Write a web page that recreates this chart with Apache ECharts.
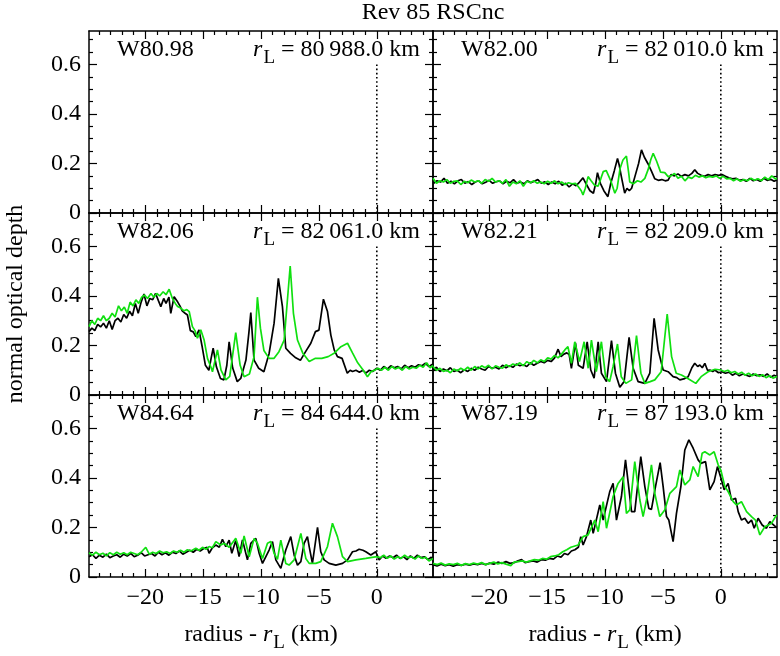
<!DOCTYPE html>
<html>
<head>
<meta charset="utf-8">
<script src="https://cdn.jsdelivr.net/npm/echarts@6/dist/echarts.min.js"></script>
<style>html,body{margin:0;padding:0;background:#fff}#c{width:780px;height:656px}</style>
</head>
<body>
<div id="c"></div>
<script>
// ---------- axis ranges and ticks ----------
const xMin = -24.85, xMax = 4.85, yMin = 0, yMax = 0.735;
const xMajorTicks = [-20, -15, -10, -5, 0];
const xMinorTicks = [-24,-23,-22,-21,-19,-18,-17,-16,-14,-13,-12,-11,-9,-8,-7,-6,-4,-3,-2,-1,1,2,3,4];
const yMajorTicks = [0, 0.2, 0.4, 0.6];
const yMinorTicks = [0.05,0.1,0.15,0.25,0.3,0.35,0.45,0.5,0.55,0.65,0.7];
const refLineY = [0, 0.6];

// ---------- panel labels ----------
const panelNames = ['W80.98', 'W82.00', 'W82.06', 'W82.21', 'W84.64', 'W87.19'];
const panelRL = ['80\u2009988.0', '82\u2009010.0', '82\u2009061.0', '82\u2009209.0', '84\u2009644.0', '87\u2009193.0'];

// ---------- data: [radius - rL (km), normal optical depth] ----------
const black_W8098 = [];
const green_W8098 = [];

const black_W8200 = [[-24.8,0.12],[-24.5,0.13],[-24.2,0.125],[-23.9,0.14],[-23.6,0.12],[-23.3,0.128],[-23.0,0.118],[-22.7,0.13],[-22.4,0.135],[-22.1,0.12],[-21.8,0.127],[-21.5,0.115],[-21.2,0.125],[-20.9,0.13],[-20.6,0.118],[-20.3,0.124],[-20.0,0.132],[-19.7,0.12],[-19.4,0.126],[-19.1,0.13],[-18.8,0.118],[-18.5,0.128],[-18.2,0.122],[-17.9,0.135],[-17.6,0.12],[-17.3,0.125],[-17.0,0.118],[-16.7,0.13],[-16.4,0.122],[-16.1,0.128],[-15.8,0.135],[-15.5,0.12],[-15.2,0.126],[-14.9,0.115],[-14.6,0.125],[-14.3,0.118],[-14.0,0.128],[-13.7,0.112],[-13.4,0.12],[-13.1,0.105],[-12.8,0.118],[-12.5,0.11],[-12.2,0.125],[-11.9,0.142],[-11.6,0.115],[-11.3,0.09],[-11.0,0.08],[-10.8,0.12],[-10.65,0.163],[-10.4,0.12],[-10.1,0.09],[-9.75,0.066],[-9.5,0.12],[-9.2,0.17],[-8.92,0.22],[-8.78,0.195],[-8.6,0.15],[-8.3,0.08],[-8.1,0.1],[-7.9,0.09],[-7.7,0.1],[-7.4,0.15],[-7.1,0.2],[-6.85,0.255],[-6.6,0.225],[-6.3,0.2],[-6.0,0.17],[-5.7,0.138],[-5.4,0.132],[-5.1,0.135],[-4.8,0.13],[-4.55,0.133],[-4.3,0.155],[-4.0,0.15],[-3.7,0.158],[-3.4,0.148],[-3.1,0.155],[-2.8,0.15],[-2.5,0.16],[-2.25,0.175],[-2.0,0.16],[-1.7,0.152],[-1.4,0.148],[-1.1,0.155],[-0.8,0.15],[-0.5,0.155],[-0.2,0.152],[0.1,0.155],[0.4,0.148],[0.7,0.142],[1.0,0.138],[1.3,0.14],[1.6,0.132],[1.9,0.135],[2.2,0.128],[2.5,0.14],[2.8,0.13],[3.1,0.135],[3.4,0.128],[3.7,0.14],[4.0,0.132],[4.3,0.136],[4.6,0.128],[4.85,0.133]];
const green_W8200 = [[-24.85,0.14],[-24.55,0.12],[-24.25,0.13],[-23.95,0.125],[-23.65,0.135],[-23.35,0.12],[-23.05,0.128],[-22.75,0.13],[-22.45,0.115],[-22.15,0.128],[-21.85,0.122],[-21.55,0.133],[-21.25,0.125],[-20.95,0.13],[-20.65,0.12],[-20.35,0.135],[-20.05,0.128],[-19.75,0.14],[-19.45,0.125],[-19.15,0.13],[-18.85,0.12],[-18.55,0.135],[-18.25,0.108],[-17.95,0.125],[-17.65,0.118],[-17.35,0.13],[-17.05,0.108],[-16.75,0.128],[-16.45,0.122],[-16.15,0.13],[-15.85,0.12],[-15.55,0.125],[-15.25,0.118],[-14.95,0.128],[-14.65,0.12],[-14.35,0.13],[-14.05,0.118],[-13.75,0.125],[-13.45,0.115],[-13.15,0.122],[-12.85,0.118],[-12.55,0.12],[-12.3,0.106],[-12.05,0.09],[-11.9,0.073],[-11.7,0.1],[-11.46,0.147],[-11.2,0.13],[-10.9,0.112],[-10.6,0.108],[-10.35,0.14],[-10.15,0.167],[-9.9,0.172],[-9.73,0.171],[-9.5,0.13],[-9.15,0.08],[-8.95,0.1],[-8.7,0.18],[-8.45,0.214],[-8.15,0.23],[-7.95,0.16],[-7.86,0.125],[-7.55,0.118],[-7.2,0.13],[-6.9,0.125],[-6.56,0.14],[-6.28,0.175],[-6.05,0.215],[-5.84,0.241],[-5.55,0.21],[-5.2,0.165],[-4.84,0.163],[-4.55,0.147],[-4.3,0.15],[-4.0,0.16],[-3.7,0.14],[-3.4,0.148],[-3.1,0.13],[-2.8,0.145],[-2.5,0.14],[-2.2,0.152],[-1.9,0.145],[-1.6,0.15],[-1.3,0.142],[-1.0,0.148],[-0.7,0.145],[-0.4,0.15],[-0.1,0.14],[0.2,0.148],[0.5,0.138],[0.8,0.14],[1.1,0.13],[1.4,0.138],[1.7,0.128],[2.0,0.135],[2.3,0.13],[2.6,0.14],[2.9,0.132],[3.2,0.138],[3.5,0.13],[3.8,0.145],[4.1,0.135],[4.4,0.15],[4.7,0.138],[4.85,0.14]];

const black_W8206 = [[-24.85,0.256],[-24.6,0.27],[-24.35,0.26],[-24.1,0.285],[-23.85,0.275],[-23.6,0.29],[-23.35,0.27],[-23.1,0.3],[-22.85,0.265],[-22.6,0.3],[-22.35,0.31],[-22.1,0.295],[-21.85,0.325],[-21.6,0.31],[-21.35,0.338],[-21.1,0.32],[-20.85,0.37],[-20.6,0.33],[-20.35,0.375],[-20.1,0.408],[-19.85,0.36],[-19.6,0.39],[-19.35,0.385],[-19.1,0.41],[-18.85,0.38],[-18.65,0.357],[-18.4,0.39],[-18.2,0.37],[-17.95,0.395],[-17.79,0.33],[-17.5,0.397],[-17.25,0.38],[-17.0,0.36],[-16.8,0.34],[-16.55,0.33],[-16.35,0.323],[-16.1,0.26],[-15.85,0.255],[-15.63,0.236],[-15.35,0.263],[-15.1,0.2],[-14.8,0.12],[-14.5,0.1],[-14.3,0.15],[-14.13,0.189],[-13.85,0.114],[-13.5,0.067],[-13.2,0.061],[-12.95,0.12],[-12.75,0.215],[-12.45,0.11],[-12.05,0.054],[-11.75,0.067],[-11.3,0.141],[-11.05,0.25],[-10.88,0.333],[-10.6,0.141],[-10.2,0.108],[-9.75,0.094],[-9.3,0.168],[-8.87,0.29],[-8.5,0.471],[-8.15,0.357],[-7.86,0.189],[-7.45,0.168],[-7.0,0.15],[-6.6,0.14],[-6.15,0.175],[-5.7,0.209],[-5.3,0.256],[-5.0,0.262],[-4.61,0.387],[-4.26,0.337],[-3.97,0.242],[-3.68,0.182],[-3.4,0.155],[-3.0,0.148],[-2.55,0.088],[-2.3,0.1],[-2.1,0.095],[-1.8,0.1],[-1.5,0.092],[-1.2,0.1],[-0.95,0.088],[-0.65,0.1],[-0.37,0.095],[0,0.108],[0.3,0.1],[0.6,0.115],[0.9,0.105],[1.2,0.118],[1.5,0.11],[1.8,0.115],[2.1,0.105],[2.4,0.12],[2.7,0.11],[3.0,0.118],[3.3,0.112],[3.6,0.122],[3.9,0.118],[4.2,0.128],[4.5,0.115],[4.85,0.125]];
const green_W8206 = [[-24.85,0.276],[-24.6,0.3],[-24.35,0.285],[-24.1,0.31],[-23.85,0.3],[-23.6,0.32],[-23.35,0.3],[-23.1,0.31],[-22.85,0.33],[-22.6,0.315],[-22.3,0.36],[-22.05,0.34],[-21.8,0.355],[-21.55,0.33],[-21.3,0.375],[-21.05,0.36],[-20.8,0.384],[-20.55,0.37],[-20.3,0.395],[-20.05,0.404],[-19.8,0.39],[-19.5,0.41],[-19.25,0.395],[-19.0,0.41],[-18.75,0.4],[-18.45,0.417],[-18.2,0.405],[-17.93,0.427],[-17.65,0.39],[-17.4,0.37],[-17.2,0.357],[-16.9,0.35],[-16.65,0.34],[-16.4,0.345],[-16.2,0.337],[-15.92,0.276],[-15.7,0.26],[-15.49,0.229],[-15.2,0.263],[-14.91,0.222],[-14.62,0.148],[-14.3,0.11],[-14.19,0.094],[-13.76,0.182],[-13.45,0.1],[-13.04,0.061],[-12.7,0.075],[-12.18,0.252],[-11.8,0.12],[-11.46,0.074],[-11.0,0.085],[-10.6,0.155],[-10.31,0.395],[-10.05,0.27],[-9.75,0.18],[-9.3,0.148],[-8.87,0.148],[-8.45,0.175],[-8.0,0.222],[-7.48,0.521],[-7.2,0.33],[-6.85,0.222],[-6.4,0.17],[-5.84,0.135],[-5.3,0.148],[-4.75,0.148],[-4.2,0.155],[-3.65,0.17],[-3.1,0.195],[-2.53,0.209],[-2.1,0.17],[-1.65,0.13],[-1.25,0.105],[-0.81,0.074],[-0.5,0.094],[-0.2,0.1],[0.1,0.108],[0.4,0.1],[0.7,0.112],[1.0,0.1],[1.3,0.115],[1.6,0.105],[1.9,0.112],[2.2,0.1],[2.5,0.115],[2.8,0.105],[3.1,0.112],[3.4,0.108],[3.7,0.12],[4.0,0.112],[4.3,0.13],[4.6,0.11],[4.85,0.12]];

const black_W8221 = [[-24.85,0.1],[-24.55,0.112],[-24.25,0.095],[-23.95,0.105],[-23.65,0.098],[-23.35,0.11],[-23.05,0.095],[-22.75,0.1],[-22.45,0.09],[-22.15,0.102],[-21.85,0.095],[-21.55,0.108],[-21.25,0.1],[-20.95,0.112],[-20.65,0.105],[-20.35,0.1],[-20.05,0.115],[-19.75,0.108],[-19.45,0.112],[-19.15,0.105],[-18.85,0.12],[-18.55,0.11],[-18.25,0.118],[-17.95,0.112],[-17.65,0.125],[-17.35,0.118],[-17.05,0.122],[-16.75,0.115],[-16.45,0.13],[-16.15,0.12],[-15.85,0.128],[-15.55,0.135],[-15.25,0.13],[-14.95,0.14],[-14.65,0.135],[-14.35,0.15],[-14.05,0.185],[-13.8,0.155],[-13.55,0.165],[-13.3,0.17],[-13.1,0.165],[-12.9,0.108],[-12.55,0.211],[-12.3,0.12],[-11.89,0.108],[-11.54,0.215],[-11.23,0.101],[-10.94,0.068],[-10.59,0.215],[-10.31,0.088],[-9.87,0.054],[-9.44,0.22],[-9.1,0.088],[-8.72,0.031],[-8.35,0.054],[-7.92,0.233],[-7.57,0.108],[-7.14,0.054],[-6.56,0.047],[-6.13,0.088],[-5.76,0.31],[-5.41,0.182],[-4.98,0.101],[-4.55,0.094],[-4.12,0.074],[-3.8,0.07],[-3.54,0.061],[-3.2,0.065],[-2.82,0.074],[-2.5,0.11],[-2.25,0.128],[-2.0,0.115],[-1.81,0.121],[-1.6,0.11],[-1.38,0.128],[-1.15,0.1],[-0.95,0.101],[-0.7,0.095],[-0.52,0.101],[-0.2,0.09],[0.1,0.094],[0.4,0.088],[0.7,0.092],[1.0,0.08],[1.3,0.088],[1.6,0.078],[1.9,0.085],[2.2,0.08],[2.5,0.075],[2.8,0.085],[3.1,0.078],[3.4,0.082],[3.7,0.075],[4.0,0.085],[4.3,0.072],[4.6,0.08],[4.85,0.075]];
const green_W8221 = [[-24.85,0.115],[-24.55,0.1],[-24.25,0.108],[-23.95,0.095],[-23.65,0.1],[-23.35,0.09],[-23.05,0.105],[-22.75,0.098],[-22.45,0.108],[-22.15,0.1],[-21.85,0.112],[-21.55,0.1],[-21.25,0.115],[-20.95,0.105],[-20.65,0.118],[-20.35,0.11],[-20.05,0.12],[-19.75,0.105],[-19.45,0.118],[-19.15,0.112],[-18.85,0.108],[-18.55,0.122],[-18.25,0.115],[-17.95,0.125],[-17.65,0.12],[-17.35,0.13],[-17.05,0.118],[-16.75,0.135],[-16.45,0.125],[-16.15,0.14],[-15.85,0.13],[-15.55,0.142],[-15.25,0.135],[-14.95,0.15],[-14.65,0.145],[-14.35,0.16],[-14.05,0.15],[-13.75,0.165],[-13.47,0.182],[-13.2,0.195],[-12.9,0.128],[-12.61,0.215],[-12.2,0.135],[-11.8,0.215],[-11.45,0.108],[-11.17,0.222],[-10.75,0.094],[-10.31,0.215],[-9.95,0.074],[-9.6,0.054],[-9.3,0.115],[-8.92,0.206],[-8.6,0.074],[-8.2,0.047],[-7.7,0.061],[-7.28,0.24],[-6.9,0.088],[-6.56,0.047],[-6.1,0.054],[-5.7,0.061],[-5.15,0.094],[-4.63,0.327],[-4.25,0.155],[-3.85,0.088],[-3.4,0.081],[-2.85,0.067],[-2.16,0.047],[-1.7,0.074],[-1.1,0.094],[-0.5,0.104],[0,0.101],[0.3,0.095],[0.6,0.1],[0.9,0.09],[1.2,0.095],[1.5,0.085],[1.8,0.092],[2.1,0.08],[2.4,0.088],[2.7,0.078],[3.0,0.085],[3.3,0.075],[3.6,0.082],[3.9,0.07],[4.2,0.078],[4.5,0.068],[4.85,0.075]];

const black_W8464 = [[-24.85,0.082],[-24.55,0.09],[-24.25,0.075],[-23.95,0.088],[-23.65,0.08],[-23.35,0.092],[-23.05,0.078],[-22.75,0.085],[-22.45,0.09],[-22.15,0.08],[-21.85,0.092],[-21.55,0.085],[-21.25,0.095],[-20.95,0.082],[-20.65,0.088],[-20.35,0.098],[-20.05,0.085],[-19.75,0.09],[-19.45,0.095],[-19.15,0.085],[-18.85,0.1],[-18.55,0.09],[-18.25,0.098],[-17.95,0.088],[-17.65,0.1],[-17.35,0.095],[-17.05,0.105],[-16.75,0.092],[-16.45,0.1],[-16.15,0.108],[-15.85,0.1],[-15.55,0.112],[-15.25,0.105],[-14.95,0.115],[-14.65,0.12],[-14.48,0.096],[-14.2,0.118],[-13.9,0.129],[-13.6,0.12],[-13.33,0.152],[-13.04,0.123],[-12.75,0.149],[-12.52,0.096],[-12.18,0.147],[-11.89,0.082],[-11.6,0.15],[-11.17,0.069],[-10.88,0.136],[-10.45,0.156],[-10.16,0.096],[-9.87,0.055],[-9.3,0.109],[-9.01,0.143],[-8.72,0.069],[-8.29,0.035],[-7.86,0.109],[-7.43,0.163],[-7.14,0.089],[-6.85,0.048],[-6.56,0.062],[-6.28,0.136],[-5.99,0.163],[-5.84,0.123],[-5.56,0.055],[-5.12,0.2],[-4.84,0.102],[-4.55,0.069],[-4.12,0.055],[-3.54,0.048],[-2.96,0.055],[-2.53,0.069],[-2.1,0.102],[-1.8,0.105],[-1.53,0.112],[-1.2,0.108],[-0.95,0.102],[-0.52,0.089],[-0.09,0.102],[0.2,0.069],[0.5,0.085],[0.8,0.075],[1.1,0.085],[1.4,0.078],[1.7,0.088],[2.0,0.075],[2.3,0.082],[2.6,0.07],[2.9,0.085],[3.2,0.075],[3.5,0.088],[3.8,0.078],[4.1,0.082],[4.4,0.07],[4.7,0.08],[4.85,0.069]];
const green_W8464 = [[-24.85,0.098],[-24.55,0.088],[-24.25,0.1],[-23.95,0.09],[-23.65,0.096],[-23.35,0.085],[-23.05,0.098],[-22.75,0.09],[-22.45,0.1],[-22.15,0.092],[-21.85,0.098],[-21.55,0.09],[-21.25,0.1],[-20.95,0.095],[-20.65,0.09],[-20.35,0.1],[-19.95,0.12],[-19.65,0.092],[-19.35,0.1],[-19.05,0.095],[-18.75,0.105],[-18.45,0.098],[-18.15,0.102],[-17.85,0.095],[-17.55,0.105],[-17.25,0.1],[-16.95,0.108],[-16.65,0.1],[-16.35,0.11],[-16.05,0.105],[-15.63,0.116],[-15.35,0.108],[-15.05,0.12],[-14.75,0.112],[-14.48,0.123],[-14.2,0.118],[-13.9,0.143],[-13.47,0.129],[-13.18,0.136],[-12.75,0.12],[-12.18,0.156],[-11.74,0.096],[-11.46,0.166],[-11.02,0.082],[-10.59,0.156],[-10.31,0.136],[-9.87,0.075],[-9.44,0.136],[-9.15,0.143],[-8.87,0.096],[-8.58,0.071],[-8.29,0.149],[-7.86,0.055],[-7.57,0.048],[-7.14,0.069],[-6.56,0.176],[-6.13,0.075],[-5.84,0.055],[-5.27,0.055],[-4.84,0.062],[-4.26,0.123],[-3.83,0.217],[-3.4,0.163],[-2.96,0.082],[-2.53,0.062],[-1.81,0.069],[-0.95,0.075],[0,0.082],[0.3,0.078],[0.6,0.088],[0.9,0.075],[1.2,0.085],[1.5,0.072],[1.8,0.082],[2.1,0.075],[2.4,0.088],[2.7,0.078],[3.0,0.082],[3.3,0.072],[3.6,0.085],[3.9,0.075],[4.2,0.08],[4.5,0.065],[4.85,0.075]];

const black_W8719 = [[-24.85,0.05],[-24.5,0.045],[-24.15,0.052],[-23.8,0.046],[-23.45,0.05],[-23.1,0.044],[-22.75,0.05],[-22.4,0.047],[-22.05,0.052],[-21.7,0.048],[-21.35,0.053],[-21.0,0.05],[-20.65,0.055],[-20.3,0.05],[-19.95,0.056],[-19.6,0.052],[-19.25,0.06],[-18.9,0.055],[-18.55,0.062],[-18.2,0.055],[-17.85,0.058],[-17.5,0.065],[-17.2,0.07],[-16.9,0.058],[-16.55,0.062],[-16.2,0.065],[-15.85,0.06],[-15.5,0.07],[-15.15,0.068],[-14.8,0.075],[-14.45,0.072],[-14.1,0.085],[-13.8,0.08],[-13.5,0.095],[-13.2,0.09],[-12.9,0.105],[-12.6,0.11],[-12.3,0.12],[-12.09,0.163],[-11.89,0.129],[-11.6,0.163],[-11.23,0.23],[-11.02,0.176],[-10.45,0.291],[-10.16,0.23],[-9.59,0.345],[-9.3,0.378],[-9.01,0.23],[-8.58,0.325],[-8.23,0.473],[-7.94,0.358],[-7.71,0.264],[-7.43,0.264],[-6.91,0.486],[-6.56,0.365],[-6.22,0.277],[-5.99,0.273],[-5.64,0.365],[-5.24,0.462],[-4.98,0.365],[-4.69,0.244],[-4.49,0.23],[-4.12,0.143],[-3.83,0.257],[-3.45,0.365],[-3.11,0.513],[-2.76,0.554],[-2.39,0.52],[-1.96,0.473],[-1.73,0.459],[-1.32,0.466],[-0.95,0.352],[-0.58,0.385],[-0.29,0.446],[0.06,0.392],[0.29,0.352],[0.63,0.378],[0.92,0.311],[1.27,0.318],[1.5,0.264],[1.78,0.23],[2.07,0.237],[2.36,0.217],[2.65,0.23],[2.88,0.197],[3.22,0.237],[3.57,0.21],[3.94,0.197],[4.23,0.224],[4.72,0.203],[4.85,0.2]];
const green_W8719 = [[-24.85,0.055],[-24.5,0.05],[-24.15,0.056],[-23.8,0.048],[-23.45,0.053],[-23.1,0.05],[-22.75,0.055],[-22.4,0.047],[-22.05,0.054],[-21.7,0.05],[-21.35,0.056],[-21.0,0.052],[-20.65,0.058],[-20.3,0.05],[-19.95,0.055],[-19.6,0.06],[-19.25,0.053],[-18.9,0.058],[-18.55,0.052],[-18.13,0.046],[-17.85,0.06],[-17.5,0.062],[-17.15,0.065],[-16.8,0.06],[-16.45,0.065],[-16.1,0.07],[-15.75,0.068],[-15.4,0.075],[-15.05,0.072],[-14.7,0.082],[-14.35,0.085],[-14.0,0.09],[-13.65,0.102],[-13.3,0.11],[-12.95,0.12],[-12.32,0.129],[-11.89,0.163],[-11.46,0.17],[-10.88,0.23],[-10.59,0.183],[-10.16,0.304],[-9.87,0.197],[-9.3,0.325],[-8.87,0.378],[-8.43,0.405],[-8.15,0.257],[-7.86,0.271],[-7.43,0.466],[-6.99,0.311],[-6.71,0.244],[-6.42,0.311],[-5.99,0.453],[-5.7,0.338],[-5.27,0.244],[-4.84,0.271],[-4.4,0.338],[-3.83,0.365],[-3.54,0.432],[-3.11,0.372],[-2.68,0.392],[-2.39,0.446],[-1.96,0.405],[-1.61,0.5],[-1.38,0.506],[-0.95,0.493],[-0.58,0.506],[-0.23,0.453],[0,0.432],[0.35,0.365],[0.63,0.345],[1.07,0.304],[1.35,0.291],[1.78,0.304],[2.22,0.264],[2.65,0.244],[2.99,0.23],[3.37,0.17],[3.8,0.203],[4.38,0.217],[4.72,0.244],[4.85,0.25]];

const blackSeries = [black_W8098, black_W8200, black_W8206, black_W8221, black_W8464, black_W8719];
const greenSeries = [green_W8098, green_W8200, green_W8206, green_W8221, green_W8464, green_W8719];

// ---------- layout ----------
const FONT = "'Liberation Serif', 'DejaVu Serif', serif";
const colLeft = [89, 433];
const rowTop = [31, 213, 395];
const gridW = 344, gridH = 182;
const GREEN = '#10e010';

const fmtX = v => (v < 0 ? '\u2212' + Math.abs(v) : String(v));
const fmtY = v => (v === 0 ? '0' : v.toFixed(1));

const grids = [], xAxes = [], yAxes = [], series = [], graphics = [];

function xAxisDef(gi, pos, ticks, len, showLine, showLabel) {
  return {
    type: 'value', gridIndex: gi, position: pos, min: xMin, max: xMax,
    axisLine: { show: showLine, onZero: false, lineStyle: { color: '#000', width: 1.5 } },
    axisTick: { show: true, inside: true, length: len, customValues: ticks, lineStyle: { color: '#000', width: 1.2 } },
    axisLabel: { show: showLabel, customValues: ticks, margin: 9, formatter: fmtX,
      color: '#000', fontFamily: FONT, fontSize: 24 },
    splitLine: { show: false }
  };
}
function yAxisDef(gi, pos, ticks, len, showLine, showLabel) {
  return {
    type: 'value', gridIndex: gi, position: pos, min: yMin, max: yMax,
    axisLine: { show: showLine, onZero: false, lineStyle: { color: '#000', width: 1.5 } },
    axisTick: { show: true, inside: true, length: len, customValues: ticks, lineStyle: { color: '#000', width: 1.2 } },
    axisLabel: { show: showLabel, customValues: ticks, margin: 8, formatter: fmtY,
      color: '#000', fontFamily: FONT, fontSize: 24 },
    splitLine: { show: false }
  };
}

for (let i = 0; i < 6; i++) {
  const col = i % 2, row = Math.floor(i / 2);
  grids.push({ left: colLeft[col], top: rowTop[row], width: gridW, height: gridH });
  const xb = xAxes.length, yb = yAxes.length;
  xAxes.push(xAxisDef(i, 'bottom', xMajorTicks, 8, true, row === 2));
  xAxes.push(xAxisDef(i, 'bottom', xMinorTicks, 4, false, false));
  xAxes.push(xAxisDef(i, 'top', xMajorTicks, 8, true, false));
  xAxes.push(xAxisDef(i, 'top', xMinorTicks, 4, false, false));
  yAxes.push(yAxisDef(i, 'left', yMajorTicks, 8, true, col === 0));
  yAxes.push(yAxisDef(i, 'left', yMinorTicks, 4, false, false));
  yAxes.push(yAxisDef(i, 'right', yMajorTicks, 8, true, false));
  yAxes.push(yAxisDef(i, 'right', yMinorTicks, 4, false, false));

  series.push({ type: 'line', xAxisIndex: xb, yAxisIndex: yb, data: [[0, refLineY[0]], [0, refLineY[1]]],
    showSymbol: false, lineStyle: { color: '#000', width: 1.6, type: [1.6, 2.6] }, z: 1 });
  series.push({ type: 'line', xAxisIndex: xb, yAxisIndex: yb, data: blackSeries[i],
    showSymbol: false, lineStyle: { color: '#000', width: 1.7 }, z: 2 });
  series.push({ type: 'line', xAxisIndex: xb, yAxisIndex: yb, data: greenSeries[i],
    showSymbol: false, lineStyle: { color: GREEN, width: 1.7 }, z: 3 });

  // panel labels
  graphics.push({ type: 'text', x: colLeft[col] + 28, y: rowTop[row] + 19,
    style: { text: panelNames[i], fill: '#000', font: '24px ' + FONT, align: 'left', verticalAlign: 'middle' } });
  graphics.push({ type: 'text', x: colLeft[col] + 331, y: rowTop[row] + 19,
    style: { text: '{r|r}{L|L}{n| = ' + panelRL[i] + ' km}', align: 'right', verticalAlign: 'middle',
      rich: {
        r: { fontFamily: FONT, fontSize: 24, fontStyle: 'italic', fill: '#000' },
        L: { fontFamily: FONT, fontSize: 19, fill: '#000', padding: [17, 0, 0, 1] },
        n: { fontFamily: FONT, fontSize: 24, fill: '#000' }
      } } });
}

// title and axis names
graphics.push({ type: 'text', x: 433, y: 13,
  style: { text: 'Rev 85 RSCnc', fill: '#000', font: '24px ' + FONT, align: 'center', verticalAlign: 'middle' } });
graphics.push({ type: 'text', x: 16, y: 304, rotation: Math.PI / 2,
  style: { text: 'normal optical depth', fill: '#000', font: '24px ' + FONT, align: 'center', verticalAlign: 'middle' } });
[261, 605].forEach(cx => {
  graphics.push({ type: 'text', x: cx, y: 635,
    style: { text: '{n|radius - }{r|r}{L|L}{n| (km)}', align: 'center', verticalAlign: 'middle',
      rich: {
        r: { fontFamily: FONT, fontSize: 24, fontStyle: 'italic', fill: '#000' },
        L: { fontFamily: FONT, fontSize: 19, fill: '#000', padding: [17, 0, 0, 1] },
        n: { fontFamily: FONT, fontSize: 24, fill: '#000' }
      } } });
});

const chart = echarts.init(document.getElementById('c'), null, { renderer: 'canvas' });
chart.setOption({
  animation: false,
  backgroundColor: '#fff',
  grid: grids,
  xAxis: xAxes,
  yAxis: yAxes,
  series: series,
  graphic: graphics
});
</script>
</body>
</html>
